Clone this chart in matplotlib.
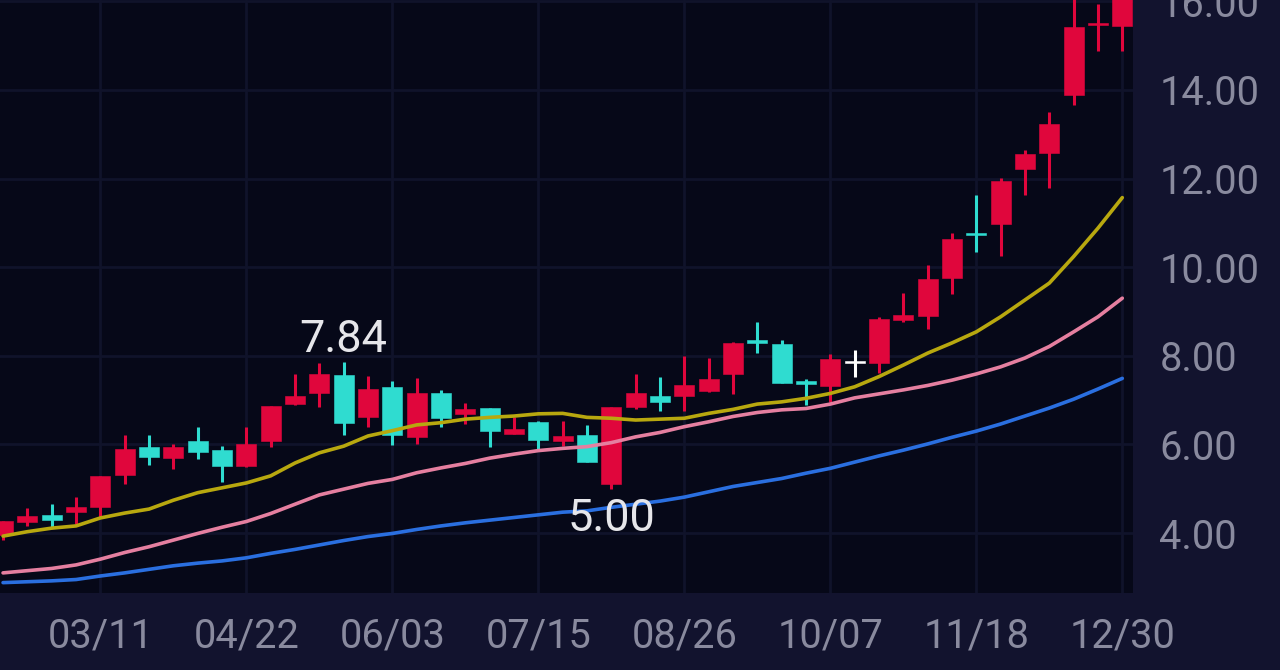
import matplotlib
matplotlib.use('Agg')
matplotlib.rcParams['font.family'] = ['Roboto', 'DejaVu Sans']

import numpy as np
import matplotlib.pyplot as plt

# === data ===
opens  = [3.95, 4.25, 4.41, 4.47, 4.59, 5.31, 5.93, 5.69, 6.08, 5.87, 5.51, 6.08, 6.91, 7.17, 7.57, 6.62,
          7.30, 6.16, 7.17, 6.69, 6.83, 6.23, 6.51, 6.07, 6.21, 5.11, 6.84, 7.09, 7.09, 7.21, 7.59, 8.36,
          8.27, 7.44, 7.32, 7.83, 7.83, 8.81, 8.90, 9.76, 10.78, 10.97, 12.21, 12.57, 13.89, 15.46, 15.44]
closes = [4.26, 4.38, 4.29, 4.58, 5.29, 5.90, 5.71, 5.95, 5.83, 5.51, 6.02, 6.87, 7.09, 7.59, 6.49, 7.25,
          6.21, 7.17, 6.59, 6.79, 6.31, 6.34, 6.10, 6.19, 5.61, 6.85, 7.17, 6.96, 7.34, 7.48, 8.28, 8.28,
          7.39, 7.36, 7.93, 7.88, 8.82, 8.92, 9.73, 10.63, 10.72, 11.95, 12.56, 13.23, 15.42, 15.52, 16.40]
highs  = [4.26, 4.56, 4.65, 4.82, 5.29, 6.21, 6.21, 6.02, 6.39, 5.97, 6.39, 6.87, 7.60, 7.83, 7.85, 7.54,
          7.42, 7.49, 7.23, 6.94, 6.83, 6.61, 6.53, 6.53, 6.44, 6.85, 7.58, 7.51, 8.00, 7.94, 8.32, 8.76,
          8.36, 7.47, 8.04, 8.13, 8.87, 9.41, 10.05, 10.77, 11.63, 12.01, 12.65, 13.51, 16.20, 15.94, 16.60]
lows   = [3.84, 4.16, 4.11, 4.20, 4.33, 5.11, 5.54, 5.44, 5.66, 5.14, 5.50, 5.95, 6.90, 6.85, 6.21, 6.39,
          5.99, 6.01, 6.40, 6.46, 5.95, 6.23, 5.87, 5.97, 5.61, 4.99, 6.80, 6.75, 6.75, 7.19, 7.14, 8.06,
          7.38, 6.89, 6.96, 7.53, 7.62, 8.77, 8.60, 9.40, 10.34, 10.25, 11.63, 11.78, 13.66, 14.87, 14.87]

ma_yellow = [3.93, 4.03, 4.11, 4.16, 4.34, 4.45, 4.54, 4.74, 4.91, 5.02, 5.13, 5.29, 5.58, 5.81, 5.96, 6.19,
             6.31, 6.44, 6.49, 6.57, 6.61, 6.64, 6.69, 6.70, 6.61, 6.59, 6.55, 6.57, 6.59, 6.70, 6.79, 6.91,
             6.96, 7.04, 7.15, 7.30, 7.53, 7.79, 8.06, 8.29, 8.54, 8.88, 9.26, 9.64, 10.24, 10.88, 11.57]
ma_pink   = [3.10, 3.15, 3.20, 3.28, 3.41, 3.56, 3.69, 3.84, 3.99, 4.13, 4.26, 4.44, 4.65, 4.86, 4.99, 5.12,
             5.21, 5.36, 5.47, 5.57, 5.69, 5.78, 5.86, 5.91, 5.95, 6.04, 6.17, 6.27, 6.40, 6.51, 6.63, 6.72,
             6.78, 6.81, 6.91, 7.05, 7.14, 7.23, 7.33, 7.45, 7.59, 7.75, 7.95, 8.21, 8.54, 8.88, 9.30]
ma_blue   = [2.88, 2.90, 2.92, 2.95, 3.03, 3.10, 3.18, 3.26, 3.32, 3.37, 3.44, 3.54, 3.63, 3.73, 3.83, 3.92,
             3.99, 4.08, 4.16, 4.23, 4.29, 4.35, 4.41, 4.47, 4.50, 4.58, 4.65, 4.72, 4.81, 4.93, 5.05, 5.14,
             5.23, 5.35, 5.46, 5.60, 5.74, 5.87, 6.01, 6.16, 6.30, 6.46, 6.64, 6.82, 7.02, 7.25, 7.49]

date_ticks  = [4, 10, 16, 22, 28, 34, 40, 46]
date_labels = ['03/11', '04/22', '06/03', '07/15', '08/26', '10/07', '11/18', '12/30']
price_ticks = [4, 6, 8, 10, 12, 14, 16]
white_candle = 35   # the one white doji

# === colours ===
PANEL  = '#12132e'
PLOT   = '#060818'
GRID   = '#10132a'
RED    = '#e0063c'
TEAL   = '#2fdcd0'
LABEL  = '#898a9e'

fig = plt.figure(figsize=(12.8, 6.7), dpi=100, facecolor=PANEL)
ax = fig.add_axes([0, 77/670, 1133/1280, 593/670], facecolor=PLOT)

x = np.arange(len(opens))
colors = [RED if c >= o else TEAL for o, c in zip(opens, closes)]
colors[white_candle] = 'white'

# ローソク足
ax.vlines(x, lows, highs, colors=colors, linewidth=2.2, zorder=3)
ax.bar(x, np.array(closes) - np.array(opens), bottom=opens, width=0.82, color=colors,
       edgecolor=colors, linewidth=0.4, zorder=3)

# 移動平均
ax.plot(x, ma_blue, color='#2a6fe0', lw=2.6, zorder=4, solid_capstyle='round')
ax.plot(x, ma_pink, color='#e57fa0', lw=2.6, zorder=4, solid_capstyle='round')
ax.plot(x, ma_yellow, color='#b8a80f', lw=2.6, zorder=4, solid_capstyle='round')

ax.set_xlim(-0.125, 46.44)
ax.set_ylim(2.646, 16.03)
ax.set_xticks(date_ticks, date_labels)
ax.set_yticks(price_ticks, [f'{p:.2f}' for p in price_ticks])
ax.yaxis.tick_right()
ax.tick_params(axis='x', length=0, pad=17, labelsize=28.6, labelcolor=LABEL)
ax.tick_params(axis='y', length=0, pad=19, labelsize=28.6, labelcolor=LABEL)
ax.grid(True, color=GRID, lw=2)
ax.set_axisbelow(True)
for s in ax.spines.values():
    s.set_visible(False)

# 高値・安値の注記
hi = int(np.argmax(highs[:20]))
ax.annotate(f'{7.84:.2f}', xy=(hi, highs[hi]), xytext=(0, 7.5), textcoords='offset points',
            ha='center', va='baseline', fontsize=32.5, color='#e6e6ea', zorder=5)
lo = int(np.argmin(lows[20:30])) + 20
ax.annotate(f'{5.00:.2f}', xy=(lo, lows[lo]), xytext=(0, -30), textcoords='offset points',
            ha='center', va='baseline', fontsize=32.5, color='#e6e6ea', zorder=5)

fig.savefig('out.png', dpi=100, facecolor=PANEL)
